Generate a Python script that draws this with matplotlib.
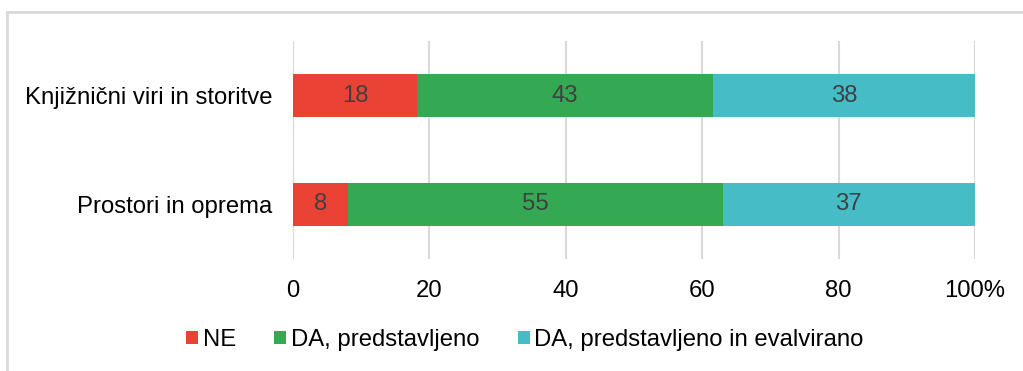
import numpy as np
import matplotlib.pyplot as plt
from matplotlib.lines import Line2D

plt.rcParams["font.family"] = ["Liberation Sans", "DejaVu Sans"]

# Podatki
kategorije = ["Knjižnični viri in storitve", "Prostori in oprema"]
serije = ["NE", "DA, predstavljeno", "DA, predstavljeno in evalvirano"]
ne = [18, 8]
da = [43, 55]
da_eval = [38, 37]
barve = ["#EA4335", "#34A853", "#46BDC6"]
oznake_x = ["0", "20", "40", "60", "80", "100%"]

vrednosti = np.array([ne, da, da_eval], dtype=float)
deleži = vrednosti / vrednosti.sum(axis=0) * 100

fs = 17.2

fig = plt.figure(figsize=(10.23, 3.71), dpi=100)
ax = fig.add_axes([293 / 1023, 1 - 259 / 371, 682 / 1023, 218 / 371])

# obroba okoli grafa (zgoraj in levo)
fig.add_artist(Line2D([7 / 1023, 1.0], [1 - 12 / 371] * 2, color="#D9D9D9", lw=2))
fig.add_artist(Line2D([7 / 1023] * 2, [0, 1 - 12 / 371], color="#D9D9D9", lw=2))

y = np.arange(len(kategorije))[::-1]
levo = np.zeros(len(kategorije))
for i in range(len(serije)):
    bars = ax.barh(y, deleži[i], left=levo, height=0.4, color=barve[i],
                   label=serije[i], zorder=3)
    for b, v in zip(bars, vrednosti[i]):
        ax.text(b.get_x() + b.get_width() / 2, b.get_y() + b.get_height() / 2,
                f"{v:.0f}", ha="center", va="center", fontsize=fs,
                color="#404040", zorder=4)
    levo += deleži[i]

ax.set_xlim(0, 100)
ax.set_ylim(-0.5, 1.5)
ax.set_xticks(np.arange(0, 101, 20))
ax.set_xticklabels(oznake_x, fontsize=fs)
ax.set_yticks(y)
ax.set_yticklabels(kategorije, fontsize=fs)
ax.tick_params(length=0)
ax.tick_params(axis="x", pad=15)
ax.tick_params(axis="y", pad=15)
ax.grid(axis="x", color="#D9D9D9", lw=1.5, zorder=0)
for s in ax.spines.values():
    s.set_visible(False)

fig.legend(loc="center", bbox_to_anchor=(525 / 1023, 1 - 340 / 371), ncol=3,
           frameon=False, fontsize=fs, handlelength=0.5, handleheight=0.5,
           handletextpad=0.2, columnspacing=1.6)

fig.savefig("out.png", dpi=100)
